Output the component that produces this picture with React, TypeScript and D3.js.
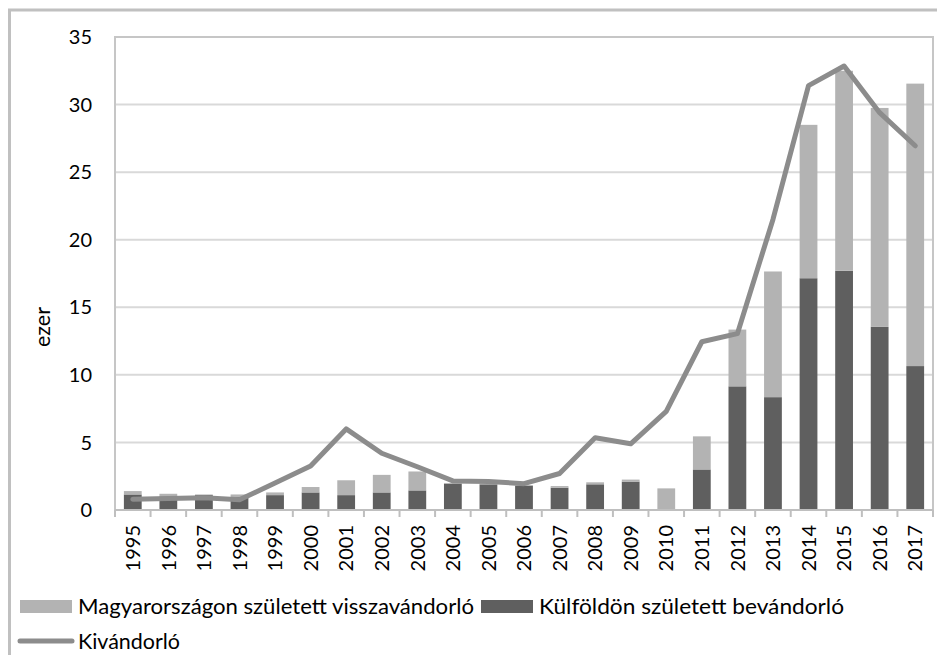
import React from "react";
import * as d3 from "d3";

const years = ["1995","1996","1997","1998","1999","2000","2001","2002","2003","2004","2005","2006","2007","2008","2009","2010","2011","2012","2013","2014","2015","2016","2017"];
const foreignBorn = [1.15,1.0,1.1,0.95,1.1,1.3,1.1,1.3,1.45,1.95,1.9,1.8,1.65,1.9,2.1,0.0,3.0,9.15,8.35,17.15,17.7,13.55,10.65];
const returning = [0.25,0.2,0.05,0.2,0.2,0.4,1.1,1.3,1.4,0.05,0.05,0.05,0.12,0.15,0.15,1.6,2.45,4.2,9.3,11.35,14.8,16.2,20.9];
const emigrants = [0.8,0.85,0.9,0.75,2.0,3.25,6.0,4.2,3.2,2.15,2.1,1.95,2.7,5.35,4.9,7.3,12.45,13.05,21.5,31.4,32.85,29.4,26.95];
const yTicks = [0,5,10,15,20,25,30,35];

const labels = {
  light: "Magyarországon született visszavándorló",
  dark: "Külföldön született bevándorló",
  line: "Kivándorló",
  yAxis: "ezer",
};

const W = 937, H = 655;
const M = { left: 115, right: 933, top: 37, bottom: 510 };
const FONT = "Lato, 'Open Sans', sans-serif";
const C_LIGHT = "#b3b3b3", C_DARK = "#5f5f5f", C_LINE = "#8c8c8c";

export default function App() {
  const x = d3.scaleBand().domain(years).range([M.left, M.right]).paddingInner(0).paddingOuter(0);
  const y = d3.scaleLinear().domain([0, 35]).range([M.bottom, M.top]);
  const bw = x.bandwidth() * 0.5;
  const line = d3.line<number>()
    .x((_, i) => (x(years[i]) as number) + x.bandwidth() / 2)
    .y((d) => y(d));

  return (
    <svg width={W} height={H} style={{ position: "absolute", left: 0, top: 0, background: "#fff" }}>
      <rect x={0} y={0} width={W} height={H} fill="#fff" />
      {/* outer border */}
      <path d={`M9.5,${H + 5} V10 H${W + 5}`} fill="none" stroke="#c0c0c0" strokeWidth={3} />
      {/* gridlines */}
      {yTicks.map((t) => (
        <line key={t} x1={M.left} x2={M.right} y1={y(t)} y2={y(t)} stroke="#d9d9d9" strokeWidth={2} />
      ))}
      {/* plot border */}
      <path d={`M${M.left},${M.bottom} V${M.top} H${M.right} V${M.bottom}`} fill="none" stroke="#c6c6c6" strokeWidth={2} />
      {/* bars */}
      {years.map((yr, i) => {
        const cx = (x(yr) as number) + x.bandwidth() / 2;
        const d0 = foreignBorn[i];
        const d1 = d0 + returning[i];
        return (
          <g key={yr}>
            {d0 > 0 && <rect x={cx - bw / 2} width={bw} y={y(d0)} height={y(0) - y(d0)} fill={C_DARK} />}
            {returning[i] > 0 && <rect x={cx - bw / 2} width={bw} y={y(d1)} height={y(d0) - y(d1)} fill={C_LIGHT} />}
          </g>
        );
      })}
      {/* x axis */}
      <line x1={M.left} x2={M.right} y1={M.bottom} y2={M.bottom} stroke="#bfbfbf" strokeWidth={2} />
      {years.map((yr) => (
        <line key={"t" + yr} x1={x(yr) as number} x2={x(yr) as number} y1={M.bottom} y2={M.bottom + 7} stroke="#bfbfbf" strokeWidth={2} />
      ))}
      <line x1={M.right} x2={M.right} y1={M.bottom} y2={M.bottom + 7} stroke="#bfbfbf" strokeWidth={2} />
      {/* line series */}
      <path d={line(emigrants) || ""} fill="none" stroke={C_LINE} strokeWidth={5} strokeLinejoin="round" strokeLinecap="round" />
      {/* y tick labels */}
      {yTicks.map((t) => (
        <text key={"l" + t} x={92} y={y(t)} dy="0.36em" textAnchor="end" fontFamily={FONT} fontSize={20} fill="#000">{t}</text>
      ))}
      <text transform={`translate(42,${327}) rotate(-90)`} dy="0.36em" textAnchor="middle" fontFamily={FONT} fontSize={21} fill="#000" textLength={40} lengthAdjust="spacingAndGlyphs">{labels.yAxis}</text>
      {/* x tick labels */}
      {years.map((yr) => {
        const cx = (x(yr) as number) + x.bandwidth() / 2;
        return (
          <text key={"x" + yr} transform={`translate(${cx},${M.bottom + 15}) rotate(-90)`} dy="0.36em" textAnchor="end" fontFamily={FONT} fontSize={20} fill="#000">{yr}</text>
        );
      })}
      {/* legend */}
      <rect x={20} y={600} width={52} height={13} fill={C_LIGHT} />
      <text x={78} y={606.5} dy="0.36em" fontFamily={FONT} fontSize={21} fill="#000" textLength={396} lengthAdjust="spacingAndGlyphs">{labels.light}</text>
      <rect x={481} y={600} width={52} height={13} fill={C_DARK} />
      <text x={539} y={606.5} dy="0.36em" fontFamily={FONT} fontSize={21} fill="#000" textLength={305} lengthAdjust="spacingAndGlyphs">{labels.dark}</text>
      <line x1={20} x2={72} y1={641} y2={641} stroke={C_LINE} strokeWidth={5} strokeLinecap="round" />
      <text x={78} y={641.5} dy="0.36em" fontFamily={FONT} fontSize={21} fill="#000" textLength={102} lengthAdjust="spacingAndGlyphs">{labels.line}</text>
    </svg>
  );
}
